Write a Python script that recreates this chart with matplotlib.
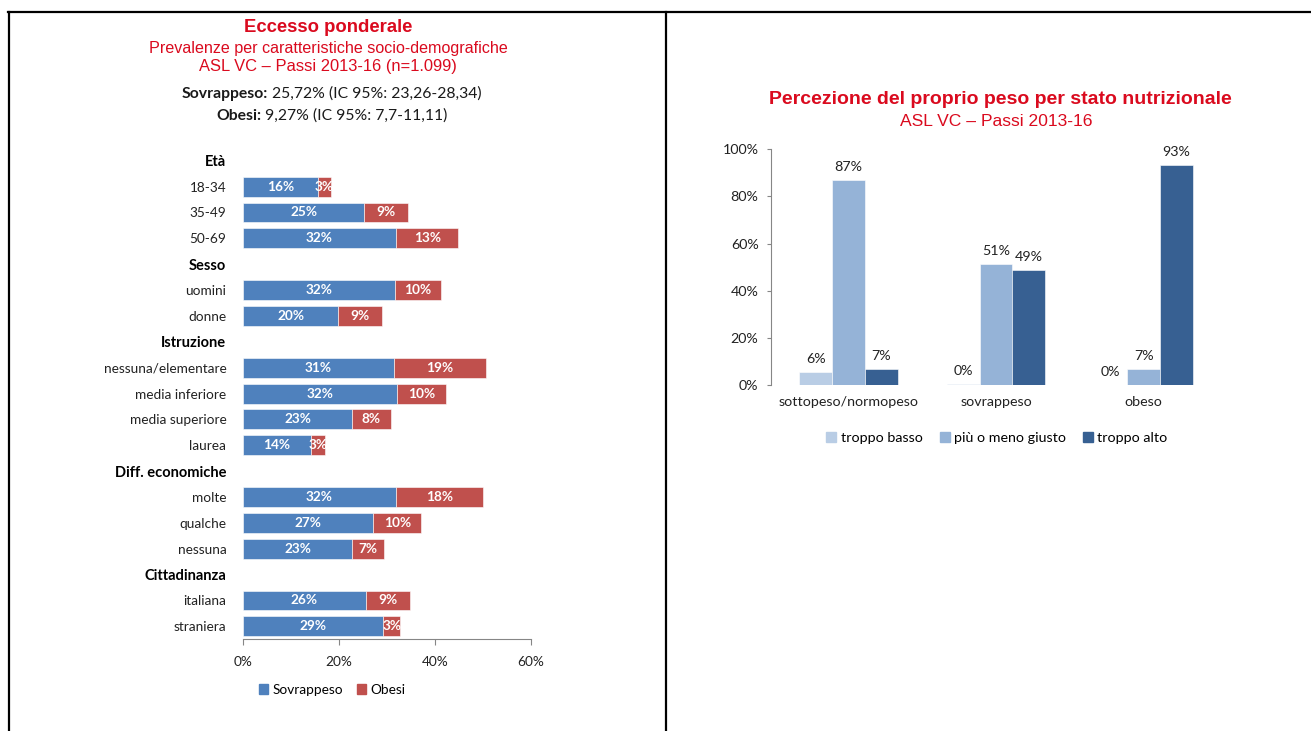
import matplotlib
matplotlib.use('Agg')
import matplotlib.pyplot as plt
import numpy as np
from matplotlib.patches import Patch
from matplotlib.lines import Line2D

plt.rcParams['font.family'] = ['Lato', 'DejaVu Sans']

W, H = 1311, 731

# --- Eccesso ponderale by socio-demographic group ---
headers = ['Età', 'Sesso', 'Istruzione', 'Diff. economiche', 'Cittadinanza']
categories = [
    ['18-34', '35-49', '50-69'],
    ['uomini', 'donne'],
    ['nessuna/elementare', 'media inferiore', 'media superiore', 'laurea'],
    ['molte', 'qualche', 'nessuna'],
    ['italiana', 'straniera'],
]
sovrappeso = [15.6, 25.3, 31.9, 31.7, 19.9, 31.4, 32.1, 22.7, 14.1, 31.9, 27.1, 22.8, 25.6, 29.3]
obesi = [2.7, 9.2, 13.0, 9.6, 9.0, 19.3, 10.2, 8.1, 3.1, 18.1, 10.1, 6.6, 9.3, 3.4]
x_ticks_left = [0, 20, 40, 60]

# --- Percezione del proprio peso ---
stati = ['sottopeso/normopeso', 'sovrappeso', 'obeso']
percezioni = ['troppo basso', 'più o meno giusto', 'troppo alto']
troppo_basso = [5.7, 0.4, 0.0]
giusto = [87.0, 51.2, 6.7]
troppo_alto = [6.9, 48.7, 93.2]
y_ticks_right = [0, 20, 40, 60, 80, 100]

BLUE, RED = '#4F81BD', '#C0504D'
SHADES = ['#B9CDE5', '#95B3D7', '#376092']
TITLE_RED = '#DA0A1E'
TXT = '#222222'


def fx(x):
    return x / W


def fy(y):
    return 1 - y / H


fig = plt.figure(figsize=(W / 100, H / 100), dpi=100)
renderer = fig.canvas.get_renderer()


def bold_lead(xc, y, lead, rest, size):
    # bold label followed by regular text, centred on xc as one line
    t1 = fig.text(0, fy(y), lead, fontsize=size, fontweight='bold',
                  ha='left', va='center', color='#1a1a1a')
    t2 = fig.text(0, fy(y), rest, fontsize=size, ha='left', va='center', color='#1a1a1a')
    w1 = t1.get_window_extent(renderer).width
    w2 = t2.get_window_extent(renderer).width
    gap = 4
    x0 = xc - (w1 + gap + w2) / 2
    t1.set_x(fx(x0))
    t2.set_x(fx(x0 + w1 + gap))


# table borders
for xs, ys in [([8, W], [12, 12]), ([9, 9], [12, H]), ([665.5, 665.5], [12, H])]:
    fig.add_artist(Line2D([fx(v) for v in xs], [fy(v) for v in ys],
                          color='black', lw=1.6, transform=fig.transFigure))

# ---------------- left chart ----------------
fig.text(fx(328), fy(28), 'Eccesso ponderale', color=TITLE_RED, fontsize=13.3,
         fontweight='bold', family='Liberation Sans', ha='center', va='center')
fig.text(fx(328), fy(48), 'Prevalenze per caratteristiche socio-demografiche',
         color=TITLE_RED, fontsize=11.6, family='Liberation Sans', ha='center', va='center')
fig.text(fx(328), fy(67), 'ASL VC – Passi 2013-16 (n=1.099)',
         color=TITLE_RED, fontsize=11.9, family='Liberation Sans', ha='center', va='center')
bold_lead(332, 94, 'Sovrappeso:', '25,72% (IC 95%: 23,26-28,34)', 11.3)
bold_lead(332, 116, 'Obesi:', '9,27% (IC 95%: 7,7-11,11)', 11.3)

axL = fig.add_axes([fx(243), fy(639.3), fx(530.7 - 243), (639.3 - 147.8) / H])

labels, bold, ypos = [], [], []
bar_y = []
row = 0
for head, cats in zip(headers, categories):
    labels.append(head)
    bold.append(True)
    ypos.append(row)
    row += 1
    for c in cats:
        labels.append(c)
        bold.append(False)
        ypos.append(row)
        bar_y.append(row)
        row += 1

bar_y = np.array(bar_y)
sov = np.array(sovrappeso)
obe = np.array(obesi)
axL.barh(bar_y, sov, height=0.77, color=BLUE, edgecolor='white', linewidth=0.4)
axL.barh(bar_y, obe, left=sov, height=0.77, color=RED, edgecolor='white', linewidth=0.4)

for y, s, o in zip(bar_y, sov, obe):
    axL.text(s / 2, y, f'{s:.0f}%', color='white', fontsize=9.8, fontweight='bold',
             ha='center', va='center')
    axL.text(s + o / 2, y, f'{o:.0f}%', color='white', fontsize=9.8, fontweight='bold',
             ha='center', va='center')

axL.set_ylim(row - 0.5, -0.5)
axL.set_xlim(0, 60)
axL.set_yticks(ypos)
axL.set_yticklabels(labels)
for lab, b in zip(axL.get_yticklabels(), bold):
    if b:
        lab.set_fontweight('bold')
        lab.set_fontsize(10.5)
        lab.set_color('black')
    else:
        lab.set_fontsize(9.8)
        lab.set_color(TXT)
axL.tick_params(axis='y', length=0, pad=12)
axL.set_xticks(x_ticks_left)
axL.set_xticklabels([f'{v}%' for v in x_ticks_left])
axL.tick_params(axis='x', length=4, width=0.8, color='#868686', labelsize=9.8,
                pad=8, labelcolor=TXT)
for side in ['top', 'right', 'left']:
    axL.spines[side].set_visible(False)
axL.spines['bottom'].set_color('#868686')
axL.spines['bottom'].set_linewidth(0.8)

fig.legend(handles=[Patch(color=BLUE, label='Sovrappeso'), Patch(color=RED, label='Obesi')],
           loc='center', bbox_to_anchor=(fx(332), fy(690)), ncol=2, frameon=False,
           fontsize=9.8, handlelength=0.7, handleheight=0.7, handletextpad=0.3,
           columnspacing=1.0)

# ---------------- right chart ----------------
fig.text(fx(1000), fy(100), 'Percezione del proprio peso per stato nutrizionale',
         color=TITLE_RED, fontsize=14, fontweight='bold', family='Liberation Sans',
         ha='center', va='center')
fig.text(fx(996), fy(122), 'ASL VC – Passi 2013-16', color=TITLE_RED, fontsize=12.6,
         family='Liberation Sans', ha='center', va='center')

axR = fig.add_axes([fx(771), fy(385), fx(1221 - 771), (385 - 149.3) / H])
x = np.arange(len(stati))
bw = 0.222
series = [troppo_basso, giusto, troppo_alto]
for i, (vals, col, name) in enumerate(zip(series, SHADES, percezioni)):
    pos = x + (i - 1) * bw
    axR.bar(pos, vals, width=bw, color=col, edgecolor='white', linewidth=0.4, label=name)
    for p, v in zip(pos, vals):
        axR.annotate(f'{v:.0f}%', (p, v), xytext=(0, 5), textcoords='offset points',
                     ha='center', va='bottom', fontsize=10.3, color=TXT)

axR.set_xlim(-0.524, 2.524)
axR.set_ylim(0, 100)
axR.set_yticks(y_ticks_right)
axR.set_yticklabels([f'{v}%' for v in y_ticks_right])
axR.set_xticks(x)
axR.set_xticklabels(stati)
axR.tick_params(axis='y', length=3, width=0.8, color='#868686', labelsize=10.3,
                labelcolor=TXT, pad=6)
axR.tick_params(axis='x', length=0, labelsize=10.3, labelcolor=TXT, pad=8)
for side in ['top', 'right', 'bottom']:
    axR.spines[side].set_visible(False)
axR.spines['left'].set_color('#868686')
axR.spines['left'].set_linewidth(0.8)

fig.legend(handles=[Patch(color=c, label=n) for c, n in zip(SHADES, percezioni)],
           loc='center', bbox_to_anchor=(fx(997), fy(438)), ncol=3, frameon=False,
           fontsize=10.3, handlelength=0.7, handleheight=0.7, handletextpad=0.3,
           columnspacing=1.2)

fig.savefig('out.png', dpi=100)
